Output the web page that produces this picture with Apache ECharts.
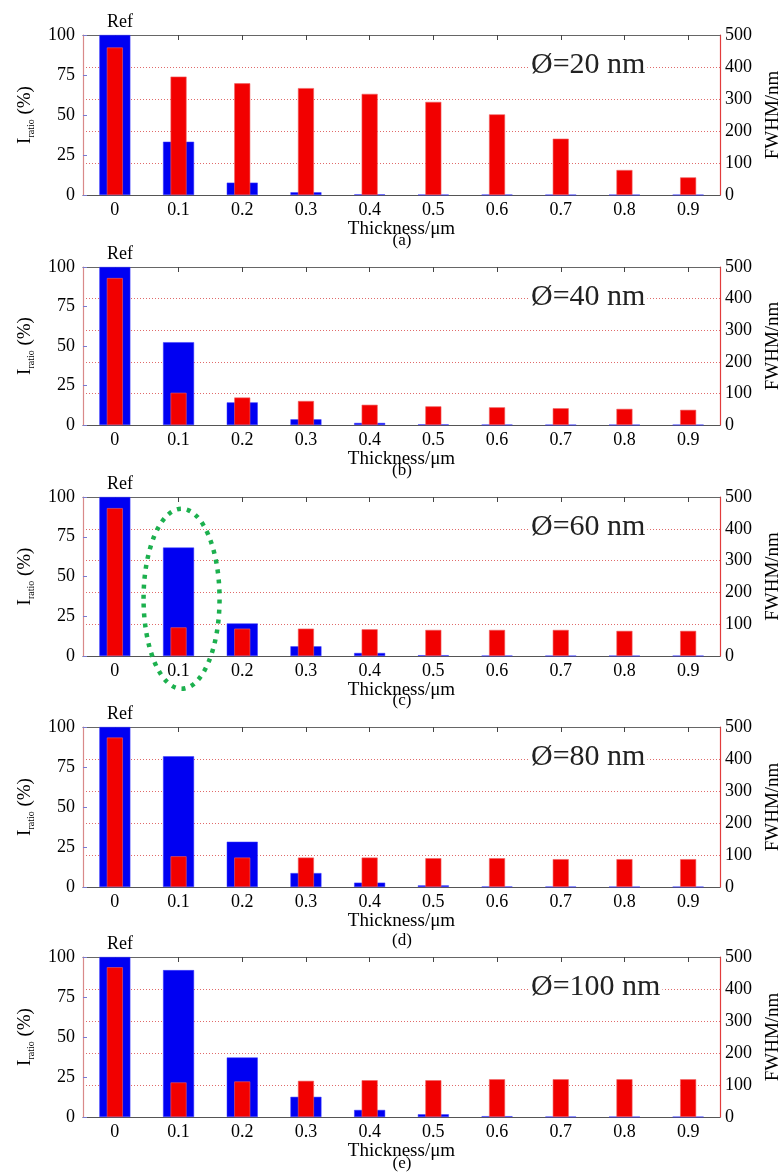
<!DOCTYPE html>
<html><head><meta charset="utf-8">
<script src="https://cdn.jsdelivr.net/npm/echarts@6/dist/echarts.min.js"></script>
<style>html,body{margin:0;padding:0;background:#fff}#c{width:781px;height:1176px}</style>
</head><body><div id="c"></div>
<script>
// ---------- data ----------
const categories = ['0', '0.1', '0.2', '0.3', '0.4', '0.5', '0.6', '0.7', '0.8', '0.9'];
const panelLabels = ['(a)', '(b)', '(c)', '(d)', '(e)'];
const diameterLabels = ['Ø=20 nm', 'Ø=40 nm', 'Ø=60 nm', 'Ø=80 nm', 'Ø=100 nm'];
const refLabel = 'Ref';
const xName = 'Thickness/μm';
const rightName = 'FWHM/nm';

const iratioA = [100, 33.3, 7.7, 1.7, 0.4, 0.2, 0.2, 0.1, 0.1, 0.1];
const fwhmA   = [461, 370, 349, 334, 316, 291, 252, 176, 78, 55];
const iratioB = [100, 52.4, 14.3, 3.6, 1.3, 0.4, 0.2, 0.1, 0.1, 0.1];
const fwhmB   = [465, 102, 87, 76, 64, 59, 56, 53, 51, 48];
const iratioC = [100, 68.2, 20.5, 6.1, 1.9, 0.5, 0.2, 0.1, 0.1, 0.1];
const fwhmC   = [465, 90, 86, 86, 84, 82, 82, 82, 79, 79];
const iratioD = [100, 81.7, 28.3, 8.7, 2.7, 1.0, 0.3, 0.2, 0.1, 0.1];
const fwhmD   = [467, 96, 92, 92, 92, 90, 90, 87, 87, 87];
const iratioE = [100, 91.8, 37.2, 12.6, 4.4, 1.7, 0.5, 0.2, 0.1, 0.1];
const fwhmE   = [468, 108, 111, 113, 115, 115, 118, 118, 118, 118];

const iratioSets = [iratioA, iratioB, iratioC, iratioD, iratioE];
const fwhmSets = [fwhmA, fwhmB, fwhmC, fwhmD, fwhmE];

// ---------- layout / style ----------
const FONT = "'Liberation Serif', 'DejaVu Serif', serif";
const gridTops = [35, 267, 497, 727, 957];
const gridHeights = [160, 158, 159, 160, 160];
const captionGaps = [46, 46, 45, 54, 47];
const GL = 83, GR = 61;

const grids = [], xAxes = [], yAxes = [], series = [], graphics = [];
for (let k = 0; k < 5; k++) {
  const top = gridTops[k], h = gridHeights[k];
  grids.push({left: GL, right: GR, top: top, height: h, containLabel: false, outerBoundsMode: 'none'});
  xAxes.push({
    gridIndex: k, type: 'category', data: categories, position: 'bottom',
    axisLine: {onZero: false, lineStyle: {color: '#555', width: 1.2}},
    axisTick: {show: false},
    axisLabel: {fontFamily: FONT, fontSize: 18, color: '#000', margin: 6},
    name: xName, nameLocation: 'middle', nameGap: 22,
    nameTextStyle: {fontFamily: FONT, fontSize: 19, color: '#000'}
  });
  xAxes.push({
    gridIndex: k, type: 'category', data: categories, position: 'top',
    axisLine: {onZero: false, lineStyle: {color: '#666', width: 1.2}},
    axisTick: {show: true, inside: true, length: 5, alignWithLabel: true, lineStyle: {color: '#444'}},
    axisLabel: {show: false}
  });
  yAxes.push({
    gridIndex: k, type: 'value', min: 0, max: 100, interval: 25, position: 'left',
    axisLine: {show: true, lineStyle: {color: '#d98a8a', width: 1.2}},
    axisTick: {show: true, inside: true, length: 4, lineStyle: {color: '#7a7ad0'}},
    splitLine: {show: false},
    axisLabel: {fontFamily: FONT, fontSize: 18, color: '#000', margin: 8},
    name: '{i|I}{s|ratio}{p| (%)}', nameLocation: 'middle', nameRotate: 90, nameGap: 47,
    nameTextStyle: {
      fontFamily: FONT, color: '#000',
      rich: {
        i: {fontFamily: FONT, fontSize: 19, color: '#000', lineHeight: 22},
        s: {fontFamily: FONT, fontSize: 10, color: '#000', verticalAlign: 'bottom', lineHeight: 22, padding: [8, 0, 0, 0]},
        p: {fontFamily: FONT, fontSize: 19, color: '#000', lineHeight: 22}
      }
    }
  });
  yAxes.push({
    gridIndex: k, type: 'value', min: 0, max: 500, interval: 100, position: 'right',
    axisLine: {show: true, lineStyle: {color: '#e23b3b', width: 1.2}},
    axisTick: {show: false},
    splitLine: {show: true, lineStyle: {type: [1, 2], color: '#e06a6a', width: 1}},
    axisLabel: {fontFamily: FONT, fontSize: 18, color: '#000', margin: 5},
    name: rightName, nameLocation: 'middle', nameRotate: 90, nameGap: 44,
    nameTextStyle: {fontFamily: FONT, fontSize: 19, color: '#000'}
  });
  series.push({
    type: 'bar', xAxisIndex: 2 * k, yAxisIndex: 2 * k, data: iratioSets[k],
    barWidth: 31, itemStyle: {color: '#0000f2', borderColor: '#3a3aff', borderWidth: 0.5}, z: 2,
    silent: true
  });
  series.push({
    type: 'bar', xAxisIndex: 2 * k + 1, yAxisIndex: 2 * k + 1, data: fwhmSets[k],
    barWidth: 16, itemStyle: {color: '#f20000', borderColor: '#f06060', borderWidth: 0.6}, z: 3,
    silent: true
  });
  graphics.push({
    type: 'text', z: 100, x: 120, y: top - 13,
    style: {text: refLabel, font: '18px ' + FONT, fill: '#000', align: 'center', verticalAlign: 'middle'}
  });
  graphics.push({
    type: 'text', z: 100, x: 529, y: top + 30,
    style: {text: diameterLabels[k], font: '30px ' + FONT, fill: '#222', verticalAlign: 'middle',
            backgroundColor: '#fff', padding: [0, 2]}
  });
  graphics.push({
    type: 'text', z: 100, x: 402, y: top + h + captionGaps[k],
    style: {text: panelLabels[k], font: '17px ' + FONT, fill: '#000', align: 'center', verticalAlign: 'middle'}
  });
}

const chart = echarts.init(document.getElementById('c'), null, {renderer: 'canvas'});
chart.setOption({
  backgroundColor: '#fff',
  animation: false,
  grid: grids, xAxis: xAxes, yAxis: yAxes, series: series,
  graphic: graphics
});
// green dotted ellipse annotation around 0.1 of panel (c)
const cx = chart.convertToPixel({xAxisIndex: 4}, '0.1');
const cy = chart.convertToPixel({yAxisIndex: 4}, 36);
graphics.push({
  type: 'ellipse', z: 120, silent: true,
  shape: {cx: cx + 3, cy: cy, rx: 38, ry: 90},
  style: {fill: 'none', stroke: '#1cb04e', lineWidth: 4.5, lineDash: [4, 6]}
});
chart.setOption({graphic: graphics});
</script>
</body></html>
